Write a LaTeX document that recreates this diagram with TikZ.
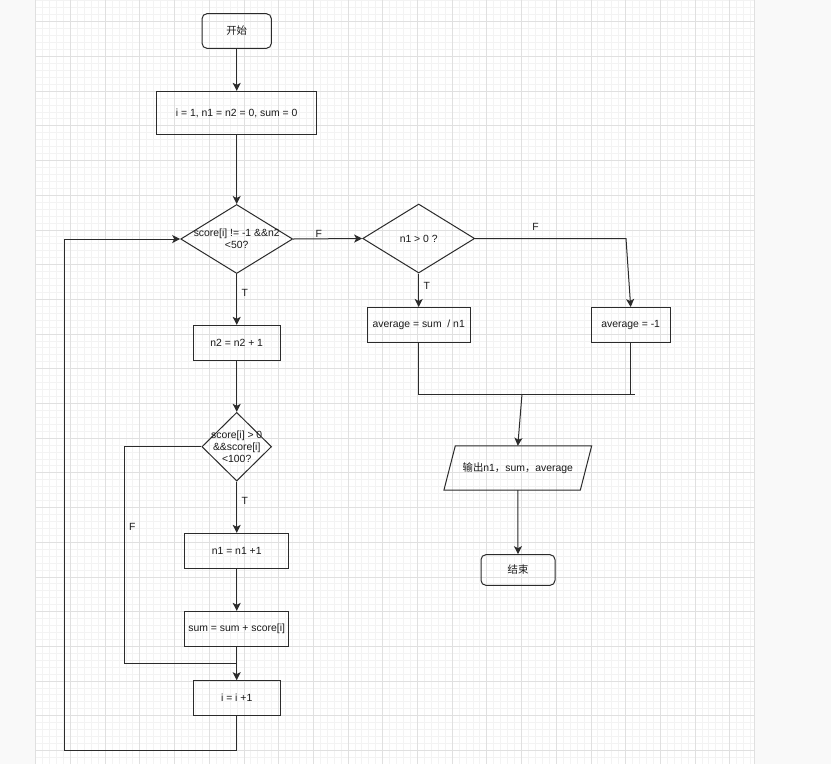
\documentclass[tikz,border=0pt]{standalone}
\usepackage{fontspec}
\setmainfont{Liberation Sans}
\newfontfamily\cjk{Noto Sans CJK SC}
\usetikzlibrary{arrows.meta,shapes.geometric}
\definecolor{linecol}{HTML}{2B2B2B}
\definecolor{textcol}{HTML}{1A1A1A}
\definecolor{pagecol}{HTML}{F9F9F9}
\definecolor{minorcol}{HTML}{F3F3F3}
\definecolor{majorcol}{HTML}{E0E0E0}
\tikzset{
  box/.style={draw=linecol, line width=1pt, rectangle, inner sep=0pt, minimum height=34.7},
  term/.style={box, rounded corners=5pt},
  test/.style={draw=linecol, line width=1pt, diamond, inner sep=0pt, minimum width=112, minimum height=69},
  iobox/.style={rectangle, inner sep=0pt, minimum width=136, minimum height=44},
  flow/.style={draw=linecol, line width=1pt, -{Stealth[length=8pt,width=8pt,inset=2pt]}},
  wire/.style={draw=linecol, line width=1pt},
  tf/.style={inner sep=1pt},
  minorline/.style={draw=minorcol, line width=0.8pt},
  majorline/.style={draw=majorcol, line width=0.8pt},
}

\begin{document}
\begin{tikzpicture}[x=1pt, y=-1pt, every node/.style={font=\fontsize{10.4}{11.8}\selectfont, text=textcol}]
\useasboundingbox (0,0) rectangle (831,764);
\fill[pagecol] (0,0) rectangle (831,764);
\fill[white] (35.7,0) rectangle (754,764);
\foreach \k in {0,...,103} \draw[minorline] ({35.7+\k*6.94},0) -- ({35.7+\k*6.94},764);
\foreach \k in {0,...,109} \draw[minorline] (35.7,{0.88+\k*6.94}) -- (754,{0.88+\k*6.94});
\foreach \k in {1,...,20} \draw[majorline] ({35.7+\k*34.7},0) -- ({35.7+\k*34.7},764);
\foreach \k in {0,...,21} \draw[majorline] (35.7,{21.7+\k*34.7}) -- (754,{21.7+\k*34.7});
\draw[majorline] (35.7,0) -- (35.7,764);
\draw[majorline] (754,0) -- (754,764);

\node[term, minimum width=69.3] at (236.7,31) (start) {\cjk 开始};
\node[box, minimum width=160, minimum height=43.3] at (236.7,113) (init) {i = 1, n1 = n2 = 0, sum = 0};
\node[test, label={[align=center]center:{score[i] != -1 \&\&n2\\<50?}}] at (236.7,239) (cond1) {};
\node[box, minimum width=86.7] at (236.7,342.7) (incn2) {n2 = n2 + 1};
\node[test, minimum width=69.7, minimum height=68.7,
  label={[align=center, font=\fontsize{10.4}{12}\selectfont]center:{score[i] > 0\\\&\&score[i]\\<100?}}] at (236.7,446.7) (cond2) {};
\node[box, minimum width=104.3] at (236.7,550.7) (incn1) {n1 = n1 +1};
\node[box, minimum width=104.3] at (236.7,628.7) (addsum) {sum = sum + score[i]};
\node[box, minimum width=86.7] at (236.7,698) (inci) {i = i +1};

\node[test] at (418.7,238.5) (cond3) {n1 > 0 ?};
\node[box, minimum width=103.3, minimum height=35] at (418.7,325) (avgok) {average = sum~ / n1};
\node[box, minimum width=78.7, minimum height=35] at (630.7,325) (avgbad) {average = -1};
\node[iobox] at (517.8,468) (out) {{\cjk 输出}n1{\cjk ，}sum{\cjk ，}average};
\draw[wire] ([xshift=-5.7]out.south west) -- ([xshift=-5.7]out.south east)
  -- ([xshift=5.7]out.north east) -- ([xshift=5.7]out.north west) -- cycle;
\node[term, minimum width=74, minimum height=30.7] at (518,570) (stop) {\cjk 结束};

\coordinate (fleft) at (124,446.7);
\coordinate (fdown) at (124,663.3);
\coordinate (fjoin) at (236.7,663.3);
\coordinate (loopbl) at (64,750);
\coordinate (fturn) at (626,238.5);
\coordinate (mrgR) at (635,394);
\coordinate (mrg) at (522,394);

\draw[flow] (start) -- (init);
\draw[flow] (init) -- (cond1);
\draw[flow] (cond1.east) -- node[pos=0.37, above, tf] {F} (cond3.west);
\draw[flow] (cond1.south) -- node[pos=0.37, right=3.5pt, tf] {T} (incn2.north);
\draw[flow] (incn2) -- (cond2);
\draw[flow] (cond2.south) -- node[pos=0.37, right=3.5pt, tf] {T} (incn1.north);
\draw[flow] (incn1) -- (addsum);
\draw[flow] (addsum) -- (inci);
\draw[wire] (cond2.west) -- (fleft) -- node[pos=0.37, right=3.5pt, tf] {F} (fdown) -- (fjoin);
\draw[flow] (inci.south) |- (loopbl) |- (cond1.west);

\draw[flow] (cond3.south) -- node[pos=0.37, right=3.5pt, tf] {T} (avgok.north);
\draw[flow] (cond3.east) -- node[pos=0.4, above=7pt, tf] {F} (fturn) -- (avgbad.north);
\draw[wire] (avgok.south) |- (mrgR);
\draw[wire] (avgbad.south) -- (avgbad.south |- mrg);
\draw[flow] (mrg) -- (out.north);
\draw[flow] (out.south) -- (stop.north);
\end{tikzpicture}
\end{document}
